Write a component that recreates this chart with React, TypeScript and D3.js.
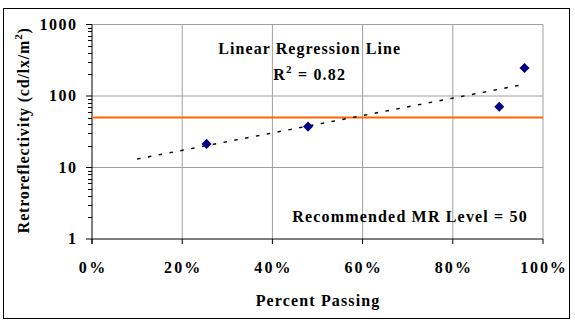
import React from "react";
import * as d3 from "d3";

const percentPassing = [25.4, 47.9, 90.3, 95.9];
const retroreflectivity = [21.4, 37.3, 71, 246];
const mrLevel = 50;
const trendStart = 10;
const xTicks = [0, 20, 40, 60, 80, 100];
const yTicks = [1, 10, 100, 1000];
const rSquaredLabel = "0.82";

const W = 575;
const H = 323;
const FONT = "'Liberation Serif', 'Times New Roman', serif";

export default function App() {
  const x = d3.scaleLinear().domain([0, 100]).range([92, 543]);
  const y = d3.scaleLog().domain([1, 1000]).range([239, 24.5]);

  // exponential regression: ln(y) = a + b x
  const n = percentPassing.length;
  const lx = percentPassing;
  const ly = retroreflectivity.map((v) => Math.log(v));
  const mx = d3.mean(lx) as number;
  const my = d3.mean(ly) as number;
  let sxy = 0, sxx = 0;
  for (let i = 0; i < n; i++) {
    sxy += (lx[i] - mx) * (ly[i] - my);
    sxx += (lx[i] - mx) * (lx[i] - mx);
  }
  const b = sxy / sxx;
  const a = my - b * mx;
  const trendEnd = d3.max(percentPassing) as number;
  const trendPts: [number, number][] = [trendStart, trendEnd].map((p) => [p, Math.exp(a + b * p)]);
  const trendLine = d3.line<[number, number]>().x((d) => x(d[0])).y((d) => y(d[1]))(trendPts) as string;

  const minor: number[] = [];
  for (let dec = 1; dec < 1000; dec *= 10) {
    for (let k = 2; k <= 9; k++) minor.push(dec * k);
  }

  const diamond = d3.symbol().type(d3.symbolDiamond2).size(64)() as string;
  const grid = "#a0a0a0";
  const [x0, x1] = x.range();
  const [y0, y1] = y.range();

  return (
    <svg width={W} height={H} style={{ position: "absolute", left: 0, top: 0, background: "#fff" }}>
      <rect x={0} y={0} width={W} height={H} fill="#fff" />
      <rect x={3.5} y={8.5} width={566} height={310} fill="none" stroke="#000" strokeWidth={1} />

      {/* gridlines */}
      {yTicks.slice(1).map((t) => (
        <line key={"hg" + t} x1={x0} x2={x1} y1={y(t)} y2={y(t)} stroke={grid} strokeWidth={1} />
      ))}
      {xTicks.slice(1).map((t) => (
        <line key={"vg" + t} x1={x(t)} x2={x(t)} y1={y0} y2={y1} stroke={grid} strokeWidth={1} />
      ))}

      {/* axes */}
      <line x1={x0} x2={x0} y1={y1} y2={y0 + 5} stroke="#000" strokeWidth={1} />
      <line x1={x0} x2={x1} y1={y0} y2={y0} stroke="#000" strokeWidth={1} />
      {yTicks.map((t) => (
        <line key={"ymt" + t} x1={x0 - 6} x2={x0} y1={y(t)} y2={y(t)} stroke="#000" strokeWidth={1} />
      ))}
      {minor.map((t) => (
        <line key={"ymn" + t} x1={x0 - 4} x2={x0} y1={Math.round(y(t)) + 0.5} y2={Math.round(y(t)) + 0.5} stroke="#000" strokeWidth={1} />
      ))}
      {xTicks.map((t) => (
        <line key={"xt" + t} x1={x(t)} x2={x(t)} y1={y0} y2={y0 + 5} stroke="#000" strokeWidth={1} />
      ))}

      {/* MR level */}
      <line x1={x0} x2={x1} y1={y(mrLevel)} y2={y(mrLevel)} stroke="#ff6600" strokeWidth={2} />

      {/* trend line */}
      <path d={trendLine} fill="none" stroke="#000" strokeWidth={1.5} strokeDasharray="3.5,7.5" />

      {/* points */}
      {percentPassing.map((p, i) => (
        <path key={"pt" + i} d={diamond} transform={`translate(${x(p)},${y(retroreflectivity[i])})`} fill="#000080" />
      ))}

      {/* tick labels */}
      {yTicks.map((t) => {
        const s = String(t);
        return (
          <text key={"yl" + t} x={76} y={y(t) + 5} textAnchor="end" fontFamily={FONT} fontWeight="bold" fontSize={16}
            textLength={9.5 * s.length - 1.5} lengthAdjust="spacing">{s}</text>
        );
      })}
      {xTicks.map((t) => {
        const s = t + "%";
        return (
          <text key={"xl" + t} x={x(t)} y={y0 + 33.5} textAnchor="middle" fontFamily={FONT} fontWeight="bold" fontSize={16}
            textLength={9.5 * s.length + 7.7} lengthAdjust="spacing">{s}</text>
        );
      })}

      {/* axis titles */}
      <text x={317.5} y={305.5} textAnchor="middle" fontFamily={FONT} fontWeight="bold" fontSize={16}
        textLength={123.7} lengthAdjust="spacing">Percent Passing</text>
      <text transform="translate(29,130.7) rotate(-90)" textAnchor="middle" fontFamily={FONT} fontWeight="bold" fontSize={16}
        textLength={205} lengthAdjust="spacing">
        Retroreflectivity (cd/lx/m<tspan fontSize={11} dy={-7}>2</tspan><tspan dy={7}>)</tspan>
      </text>

      {/* annotations */}
      <text x={218.3} y={53.5} fontFamily={FONT} fontWeight="bold" fontSize={16} textLength={181.7} lengthAdjust="spacing">
        Linear Regression Line
      </text>
      <text x={273.3} y={80} fontFamily={FONT} fontWeight="bold" fontSize={16} textLength={71.7} lengthAdjust="spacing">
        R<tspan fontSize={11} dy={-7}>2</tspan><tspan dy={7}> = {rSquaredLabel}</tspan>
      </text>
      <text x={292.3} y={222} fontFamily={FONT} fontWeight="bold" fontSize={16} textLength={234.4} lengthAdjust="spacing">
        Recommended MR Level = {mrLevel}
      </text>
    </svg>
  );
}
